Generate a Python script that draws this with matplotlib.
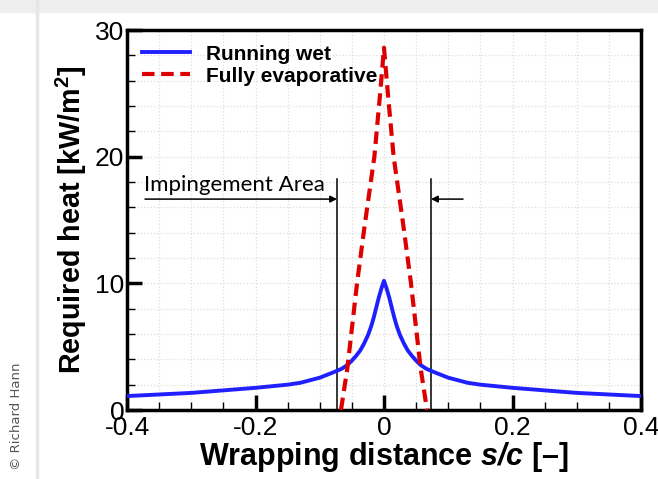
import matplotlib.pyplot as plt
from matplotlib.patches import Rectangle
from matplotlib.ticker import MultipleLocator

plt.rcParams["mathtext.fontset"] = "custom"
plt.rcParams["mathtext.bfit"] = "Liberation Sans:bold:italic"
plt.rcParams["mathtext.bf"] = "Liberation Sans:bold"
plt.rcParams["mathtext.rm"] = "Liberation Sans"

# Running wet: required heat (symmetric about s/c = 0)
wet_s = [-0.4, -0.3, -0.2, -0.15, -0.13, -0.1, -0.08, -0.066, -0.057, -0.05,
         -0.043, -0.037, -0.031, -0.025, -0.02, -0.016, -0.012, -0.008, -0.004,
         0.0, 0.004, 0.008, 0.012, 0.016, 0.02, 0.025, 0.031, 0.037, 0.043,
         0.05, 0.057, 0.066, 0.08, 0.1, 0.13, 0.15, 0.2, 0.3, 0.4]
wet_q = [1.1, 1.35, 1.75, 2.0, 2.15, 2.55, 2.95, 3.25, 3.55, 3.9,
         4.3, 4.7, 5.25, 5.9, 6.6, 7.3, 8.1, 8.9, 9.6,
         10.2, 9.6, 8.9, 8.1, 7.3, 6.6, 5.9, 5.25, 4.7, 4.3,
         3.9, 3.55, 3.25, 2.95, 2.55, 2.15, 2.0, 1.75, 1.35, 1.1]

# Fully evaporative
evap_s = [-0.067, -0.057, -0.042, -0.03, -0.015, -0.006, 0.0,
          0.006, 0.015, 0.03, 0.042, 0.057, 0.067]
evap_q = [0.0, 3.3, 10.0, 14.6, 20.0, 25.0, 28.6,
          25.0, 20.0, 14.6, 10.0, 3.3, 0.0]

area_edges = [-0.073, 0.073]
area_top = 18.2
arrow_y = 16.65
arrow_from = [-0.372, 0.123]

fig = plt.figure(figsize=(6.58, 4.79), dpi=100)
fig.patches.append(Rectangle((0, 0.975), 1, 0.025, transform=fig.transFigure,
                             color="#efefef", zorder=0))
fig.patches.append(Rectangle((0.055, 0), 0.002, 1, transform=fig.transFigure,
                             color="#e6e6e6", zorder=0))
ax = fig.add_axes([127 / 658, 1 - 410 / 479, (641 - 127) / 658, (410 - 30) / 479])

ax.plot(wet_s, wet_q, color="#2020ff", lw=2.8, label="Running wet", zorder=3)
ax.plot(evap_s, evap_q, color="#dd0000", lw=3, ls=(0, (3, 1.6)),
        label="Fully evaporative", zorder=3)

for xe in area_edges:
    ax.plot([xe, xe], [0, area_top], color="black", lw=1.1, zorder=2)
for xs, xe in zip(arrow_from, area_edges):
    ax.annotate("", xy=(xe, arrow_y), xytext=(xs, arrow_y),
                arrowprops=dict(arrowstyle="-|>", color="black", lw=1.1,
                                mutation_scale=10, shrinkA=0, shrinkB=0))
ax.text(-0.373, 17.0, "Impingement Area", fontsize=16, family="Lato",
        ha="left", va="bottom")

ax.set_xlim(-0.4, 0.4)
ax.set_ylim(0, 30)
ax.xaxis.set_minor_locator(MultipleLocator(0.05))
ax.yaxis.set_major_locator(MultipleLocator(10))
ax.yaxis.set_minor_locator(MultipleLocator(2))
ax.set_xticks([-0.4, -0.2, 0, 0.2, 0.4])
ax.set_xticklabels(["-0.4", "-0.2", "0", "0.2", "0.4"])
ax.grid(which="both", color="#dedede", ls=":", lw=0.9)
ax.tick_params(which="major", direction="in", length=11, width=2.5,
               labelsize=19, pad=2)
ax.tick_params(axis="x", which="major", pad=4)
ax.tick_params(which="minor", direction="in", length=6, width=1)
for lab in ax.get_xticklabels() + ax.get_yticklabels():
    lab.set_family("Liberation Sans")
for sp in ax.spines.values():
    sp.set_linewidth(2.5)

ax.set_xlabel("Wrapping distance $\\bfit{s/c}$ [–]", fontsize=22,
              fontweight="bold", family="Liberation Sans", labelpad=0)
ax.set_ylabel("Required heat [kW/m$^\\mathbf{2}$]", fontsize=20.7,
              fontweight="bold", family="Liberation Sans", labelpad=4)

ax.legend(loc="upper left", frameon=False, handlelength=2.3,
          borderaxespad=0.3, labelspacing=0.15,
          prop={"family": "Liberation Sans", "weight": "bold", "size": 15})

fig.text(0.025, 0.13, "© Richard Hann", rotation=90, fontsize=9.5,
         color="#555555", ha="center", va="center", family="DejaVu Sans")

fig.savefig("out.png", dpi=100)
